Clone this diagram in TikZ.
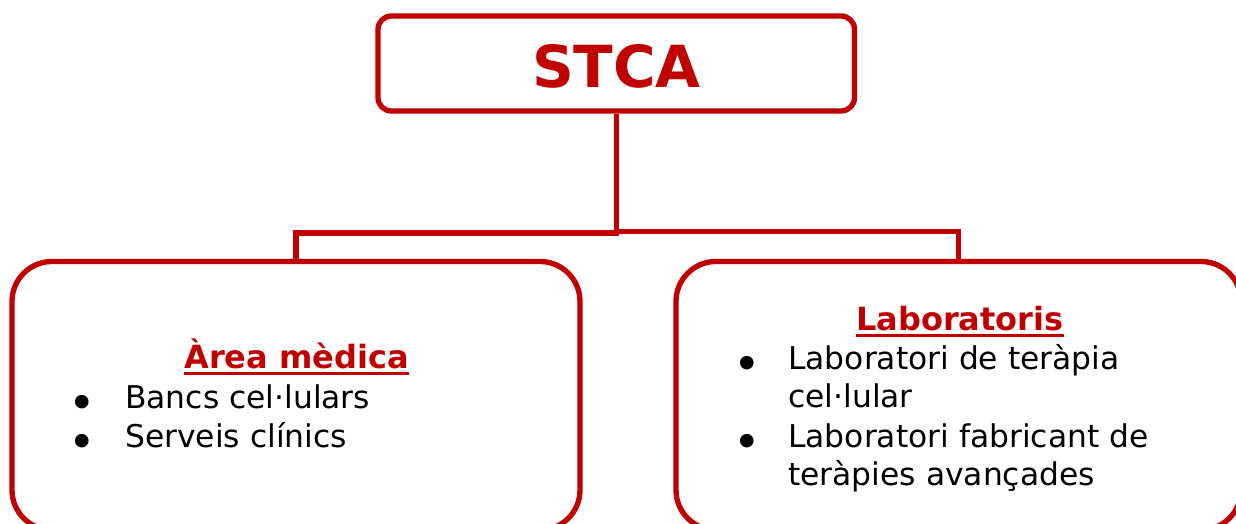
\documentclass[tikz,border=0pt]{standalone}
\usepackage{fontspec}
\setmainfont{DejaVu Sans}
\definecolor{stcared}{HTML}{C00000}
\begin{document}
\begin{tikzpicture}[x=0.75pt,y=-0.75pt,
  box/.style={draw=stcared,line width=4pt,fill=none,inner sep=0pt},
  conn/.style={draw=stcared,line width=4.1pt},
  body/.style={inner sep=0pt,anchor=base west,text=black,text height=17pt,text depth=4.5pt,font=\fontsize{23.5pt}{28pt}\selectfont},
  bul/.style={inner sep=0pt,anchor=base,text=black,text height=19pt,text depth=0pt,font=\fontsize{35pt}{36pt}\selectfont},
  head/.style={inner sep=0pt,anchor=base,text=stcared,text height=19pt,text depth=0pt,font=\fontsize{24pt}{28pt}\selectfont\bfseries},
  uline/.style={draw=stcared,line width=2pt}]
\useasboundingbox (0,0) rectangle (1236,524);
\clip (0,0) rectangle (1236,524);
% top box
\node[box,rounded corners=10pt,minimum width=357.4pt,minimum height=71.25pt] (top) at (616.25,63.5) {};
\node[inner sep=0pt,anchor=base,text=stcared,font=\fontsize{43.5pt}{50pt}\selectfont\bfseries] (title) at (616.5,87.5) {STCA};
% child boxes
\node[box,rounded corners=30pt,minimum width=426pt,minimum height=201.4pt] (lb) at (296,395.75) {};
\node[box,rounded corners=30pt,minimum width=423.75pt,minimum height=201.4pt] (rb) at (958.5,395.75) {};
% connectors
\coordinate (jl) at (616.25,233);
\coordinate (jr) at (616.25,231.3);
\draw[conn] (top.south) -- (jl) -| (lb.north);
\draw[conn] (top.south) -- (jr) -| (rb.north);
% left box text
\node[head] (h1) at (296.5,368) {Àrea mèdica};
\draw[uline] ([yshift=-4pt]h1.base west) -- ([yshift=-4pt]h1.base east);
\node[bul] (b1) at (82.5,419) {•};
\node[body] (t1) at (125,408) {Bancs cel·lulars};
\node[bul] (b2) at (82.5,458) {•};
\node[body] (t2) at (125,447) {Serveis clínics};
% right box text
\node[head] (h2) at (960,330) {Laboratoris};
\draw[uline] ([yshift=-4pt]h2.base west) -- ([yshift=-4pt]h2.base east);
\node[bul] (b3) at (747,380) {•};
\node[body] (t3) at (788,369) {Laboratori de teràpia};
\node[body] (t4) at (788,407) {cel·lular};
\node[bul] (b4) at (747,458) {•};
\node[body] (t5) at (788,447) {Laboratori fabricant de};
\node[body] (t6) at (788,485) {teràpies avançades};
\end{tikzpicture}
\end{document}
